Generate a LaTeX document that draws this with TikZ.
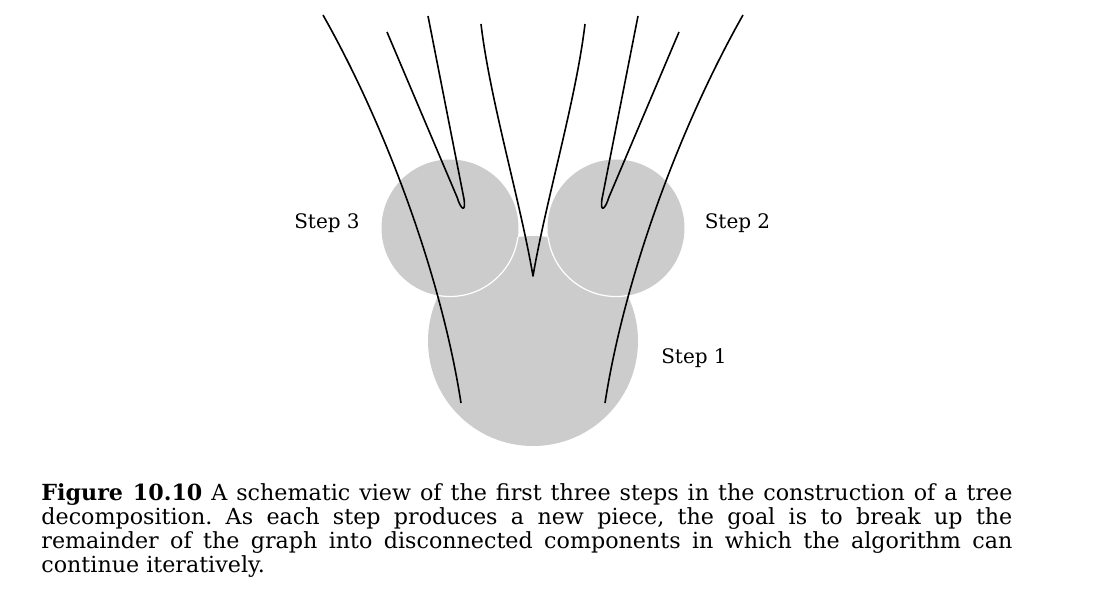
\documentclass[tikz,border=0pt]{standalone}
\usepackage{fontspec}
\setmainfont{DejaVu Serif}
\usetikzlibrary{positioning}

\begin{document}
\begin{tikzpicture}[x=0.5pt,y=-0.5pt,
        piece/.style={fill=black!20},
        seam/.style={draw=white,line width=0.6pt},
        branch/.style={line width=0.8pt,line join=round},
        steplabel/.style={anchor=base,inner sep=0pt,font=\fontsize{10}{12}\selectfont}]
        \useasboundingbox (0,0) rectangle (1094,601);
        % the three pieces
        \fill [piece] (533,341) circle [radius=105];
        \fill [piece] (450,228) circle [radius=68.5];
        \fill [piece] (616,228) circle [radius=68.5];
        \begin{scope}
        \clip (533,341) circle [radius=105];
        \draw [seam] (450,228) circle [radius=68.5];
        \draw [seam] (616,228) circle [radius=68.5];
        \end{scope}
        % the graph
        \draw [branch] (323,15) .. controls (388,130) and (442,280) .. (461,403);
        \draw [branch] (743,15) .. controls (678,130) and (624,280) .. (605,403);
        \draw [branch] (387,32) -- (457,197) .. controls (461,210) and (466,213) .. (464,199) -- (428,16);
        \draw [branch] (679,32) -- (609,197) .. controls (605,210) and (600,213) .. (602,199) -- (638,16);
        \draw [branch] (481,24) .. controls (490,100) and (520,200) .. (533,276)
                .. controls (546,200) and (576,100) .. (585,24);
        % labels
        \node [steplabel] (step3) at (327,228) {Step 3};
        \node [steplabel] (step2) at (737.5,228) {Step 2};
        \node [steplabel] (step1) at (694,363) {Step 1};
        \node [anchor=base west,inner sep=0pt,align=left,
                font=\fontsize{11.1}{12}\selectfont\frenchspacing] (caption) at (41,572)
                {\makebox[485.5pt][s]{\textbf{Figure 10.10} A schematic view of the first three steps in the construction of a tree}\\
                \makebox[485.5pt][s]{decomposition. As each step produces a new piece, the goal is to break up the}\\
                \makebox[485.5pt][s]{remainder of the graph into disconnected components in which the algorithm can}\\
                continue iteratively.};
\end{tikzpicture}
\end{document}
